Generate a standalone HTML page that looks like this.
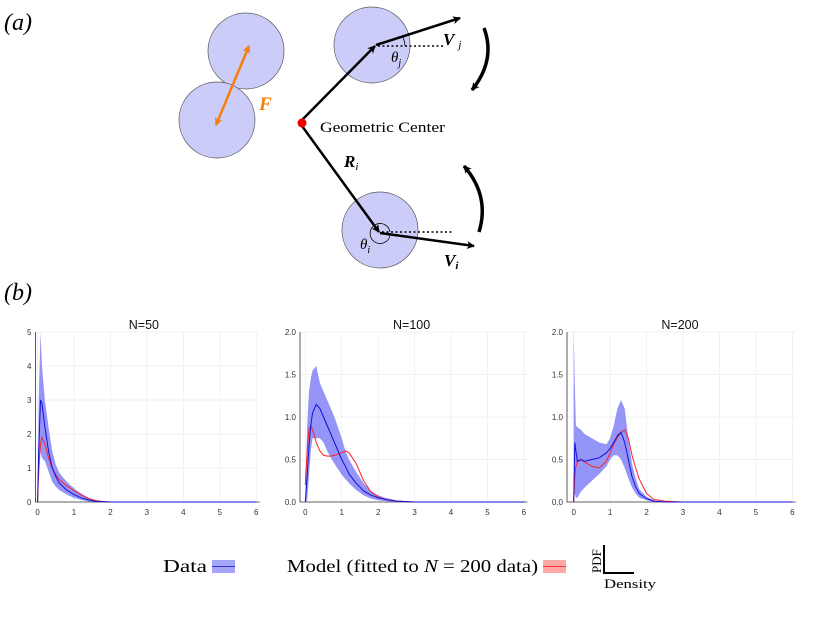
<!DOCTYPE html>
<html><head><meta charset="utf-8"><style>
body{margin:0;background:#fff;width:822px;height:636px;overflow:hidden;font-family:"Liberation Serif",serif}
svg{position:absolute;left:0;top:0}
</style></head><body>
<svg id="s" width="822" height="636" viewBox="0 0 822 636" xmlns="http://www.w3.org/2000/svg">
<defs>
<marker id="ah" markerWidth="8" markerHeight="8" refX="7" refY="4" orient="auto" markerUnits="userSpaceOnUse"><path d="M0,0 L8,4 L0,8 L2,4Z" fill="#000"/></marker>
<marker id="ao" markerWidth="8" markerHeight="8" refX="7" refY="4" orient="auto-start-reverse" markerUnits="userSpaceOnUse"><path d="M0,0 L8,4 L0,8 L2,4Z" fill="#f57f0c"/></marker>
</defs>
<g>
<text x="4" y="30" font-size="24" font-style="italic">(a)</text>
<circle cx="246" cy="51" r="38" fill="#ccccf8" stroke="#555" stroke-width="0.7"/>
<circle cx="217" cy="120" r="38" fill="#ccccf8" stroke="#555" stroke-width="0.7"/>
<line x1="216" y1="125" x2="249" y2="46" stroke="#f57f0c" stroke-width="2.5" marker-start="url(#ao)" marker-end="url(#ao)"/>
<text x="259" y="110" font-size="19" font-weight="bold" font-style="italic" fill="#f57f0c">F</text>
<circle cx="372" cy="45" r="38" fill="#ccccf8" stroke="#555" stroke-width="0.7"/>
<circle cx="380" cy="230" r="38" fill="#ccccf8" stroke="#555" stroke-width="0.7"/>
<line x1="302" y1="120" x2="375" y2="46" stroke="#000" stroke-width="2.5" marker-end="url(#ah)"/>
<line x1="302" y1="126" x2="379" y2="232" stroke="#000" stroke-width="2.5" marker-end="url(#ah)"/>
<line x1="376" y1="45" x2="460" y2="18" stroke="#000" stroke-width="2.5" marker-end="url(#ah)"/>
<line x1="380" y1="233" x2="474" y2="246" stroke="#000" stroke-width="2.5" marker-end="url(#ah)"/>
<line x1="378" y1="46" x2="445" y2="46" stroke="#000" stroke-width="1.5" stroke-dasharray="2,2.5"/>
<line x1="382" y1="232" x2="452" y2="232" stroke="#000" stroke-width="1.5" stroke-dasharray="2,2.5"/>
<path d="M405,46 A29,29 0 0 0 403,37" fill="none" stroke="#000" stroke-width="0.8"/>
<path d="M390,232 A10,10 0 1 0 390,235" fill="none" stroke="#000" stroke-width="0.8"/>
<circle cx="302" cy="123" r="4.5" fill="#e00"/>
<text x="320" y="132" font-size="15" textLength="125" lengthAdjust="spacingAndGlyphs">Geometric Center</text>
<text x="344" y="167" font-size="17" font-weight="bold" font-style="italic">R<tspan font-size="11" dy="3" font-weight="normal">i</tspan></text>
<text x="443" y="45" font-size="17" font-weight="bold" font-style="italic">V<tspan font-size="11" dy="3" font-weight="normal" dx="4">j</tspan></text>
<text x="444" y="266" font-size="17" font-weight="bold" font-style="italic">V<tspan font-size="11" dy="3">i</tspan></text>
<text x="391" y="62" font-size="15" font-style="italic">θ<tspan font-size="10" dy="4">j</tspan></text>
<text x="360" y="249" font-size="15" font-style="italic">θ<tspan font-size="10" dy="4">i</tspan></text>
<path d="M484,28 Q496,60 472,90" fill="none" stroke="#000" stroke-width="3.5" marker-end="url(#ah)"/>
<path d="M479,232 Q490,196 464,166" fill="none" stroke="#000" stroke-width="3.5" marker-end="url(#ah)"/>
<text x="4" y="300" font-size="24" font-style="italic">(b)</text>
</g>
<g id="charts"></g>
<g>
<text x="163" y="572" font-size="18" textLength="44" lengthAdjust="spacingAndGlyphs">Data</text>
<rect x="212" y="560" width="23" height="13" fill="#a6a6f8"/>
<line x1="212" y1="566.5" x2="235" y2="566.5" stroke="#3333ee" stroke-width="1"/>
<text x="287" y="572" font-size="18" textLength="251" lengthAdjust="spacingAndGlyphs">Model (fitted to <tspan font-style="italic">N</tspan> = 200 data)</text>
<rect x="543" y="560" width="23" height="13" fill="#ffa8a8"/>
<line x1="543" y1="566.5" x2="566" y2="566.5" stroke="#f33" stroke-width="1"/>
<path d="M604,545 L604,573 L634,573" fill="none" stroke="#000" stroke-width="2"/>
<text transform="translate(601,573) rotate(-90)" font-size="13">PDF</text>
<text x="604" y="588" font-size="13" textLength="52" lengthAdjust="spacingAndGlyphs">Density</text>
</g>
</svg>
<script>
// Panel N=50
const x50=[0,0.03,0.08,0.12,0.2,0.3,0.4,0.5,0.6,0.8,1.0,1.2,1.4,1.6,1.8,2.0,2.5,3,6];
const mean50=[0,1.5,3.0,2.9,2.2,1.5,1.0,0.75,0.55,0.35,0.22,0.12,0.06,0.02,0.01,0,0,0,0];
const low50=[0,0.5,1.5,1.3,1.2,0.9,0.6,0.45,0.35,0.22,0.12,0.06,0.02,0.01,0,0,0,0,0];
const up50=[0,3,5,4,3,2.2,1.5,1.1,0.85,0.6,0.4,0.25,0.12,0.05,0.02,0.01,0,0,0];
const model50=[0,1.0,1.7,1.9,1.7,1.3,1.0,0.8,0.65,0.48,0.33,0.2,0.1,0.04,0.01,0,0,0,0];
// Panel N=100
const x100=[0,0.05,0.1,0.15,0.2,0.3,0.4,0.5,0.6,0.7,0.8,1.0,1.1,1.2,1.4,1.6,1.8,2.0,2.2,2.5,3,6];
const mean100=[0,0.3,0.65,0.9,1.05,1.15,1.1,1.0,0.9,0.8,0.7,0.5,0.42,0.33,0.22,0.13,0.08,0.05,0.03,0.01,0,0];
const low100=[0,0,0.3,0.6,0.75,0.75,0.75,0.7,0.6,0.52,0.45,0.32,0.27,0.22,0.14,0.08,0.04,0.02,0.01,0,0,0];
const up100=[0,0.9,1.3,1.45,1.55,1.6,1.4,1.3,1.2,1.1,1.0,0.75,0.6,0.5,0.35,0.22,0.13,0.08,0.05,0.02,0,0];
const model100=[0.2,0.6,0.85,0.9,0.85,0.7,0.6,0.55,0.54,0.54,0.55,0.58,0.6,0.58,0.45,0.25,0.12,0.06,0.03,0.01,0,0];
// Panel N=200
const x200=[0,0.03,0.06,0.1,0.2,0.3,0.5,0.7,0.9,1.0,1.1,1.2,1.3,1.4,1.5,1.6,1.7,1.8,2.0,2.2,2.5,3,6];
const mean200=[0,0.7,0.6,0.48,0.5,0.48,0.5,0.52,0.58,0.63,0.7,0.78,0.82,0.7,0.5,0.3,0.18,0.1,0.04,0.01,0,0,0];
const low200=[0,0.1,0.05,0.05,0.12,0.17,0.25,0.33,0.42,0.5,0.55,0.55,0.5,0.4,0.28,0.17,0.1,0.05,0.02,0,0,0,0];
const up200=[2.0,1.4,0.9,0.88,0.85,0.8,0.75,0.7,0.68,0.75,0.9,1.1,1.2,1.1,0.75,0.45,0.28,0.15,0.06,0.02,0,0,0];
const model200=[0,0.3,0.42,0.47,0.5,0.47,0.42,0.4,0.48,0.58,0.68,0.76,0.82,0.85,0.75,0.55,0.4,0.27,0.1,0.03,0.01,0,0];
const xTicks=[0,1,2,3,4,5,6];
const yTicks50=["0","1","2","3","4","5"];
const yTicks2=["0.0","0.5","1.0","1.5","2.0"];
const titles=["N=50","N=100","N=200"];

const NS="http://www.w3.org/2000/svg";
const root=document.getElementById('charts');
function mk(tag,attrs,parent){const e=document.createElementNS(NS,tag);for(const k in attrs)e.setAttribute(k,attrs[k]);parent.appendChild(e);return e;}
const panels=[
 {x0:37.6,axisX:35.5,ymax:5,yt:yTicks50,x:x50,m:mean50,lo:low50,up:up50,md:model50},
 {x0:305.3,axisX:300,ymax:2,yt:yTicks2,x:x100,m:mean100,lo:low100,up:up100,md:model100},
 {x0:573.7,axisX:567,ymax:2,yt:yTicks2,x:x200,m:mean200,lo:low200,up:up200,md:model200}
];
panels.forEach((p,i)=>{
 const g=mk('g',{},root);
 
 
 const sx=v=>p.x0+v*(218.6/6);
 const y0=502,y1=332;
 const sy=v=>y0-(v/p.ymax)*(y0-y1);
 const right=p.x0+222;
 xTicks.forEach(t=>{mk('line',{x1:sx(t),x2:sx(t),y1:y1,y2:y0,stroke:'#ececec','stroke-width':0.7},g);
  const tl=mk('text',{x:sx(t),y:y0+13,'font-size':8,'text-anchor':'middle',fill:'#333','font-family':'Liberation Sans, sans-serif'},g);tl.textContent=t;
  
  });
 p.yt.forEach((t,k)=>{const v=k*p.ymax/(p.yt.length-1);
  mk('line',{x1:p.axisX,x2:right,y1:sy(v),y2:sy(v),stroke:'#ececec','stroke-width':0.7},g);
  const tl=mk('text',{x:p.axisX-4,y:sy(v)+3,'font-size':8,'text-anchor':'end',fill:'#333','font-family':'Liberation Sans, sans-serif'},g);tl.textContent=t;
  
  });
 mk('path',{d:`M${p.axisX},${y1} L${p.axisX},${y0} L${right},${y0}`,fill:'none',stroke:'#333','stroke-width':0.8},g);
 const tt=mk('text',{x:sx(3)-3,y:329,'font-size':12.5,'text-anchor':'middle',fill:'#111','font-family':'Liberation Sans, sans-serif'},g);tt.textContent=titles[i];
 
 
 let d='M'+p.x.map((v,k)=>sx(v)+','+sy(p.up[k])).join(' L');
 for(let k=p.x.length-1;k>=0;k--)d+=' L'+sx(p.x[k])+','+sy(p.lo[k]);
 const band=mk('path',{d:d+'Z',fill:'#7b7bf5','fill-opacity':0.8},g);
 
 
 const ml=mk('path',{d:'M'+p.x.map((v,k)=>sx(v)+','+sy(p.md[k])).join(' L'),fill:'none',stroke:'#f22','stroke-width':1},g);
 
 
 const bl=mk('path',{d:'M'+p.x.map((v,k)=>sx(v)+','+sy(p.m[k])).join(' L'),fill:'none',stroke:'#11d','stroke-width':1},g);
 
 
});
</script>
</body></html>
